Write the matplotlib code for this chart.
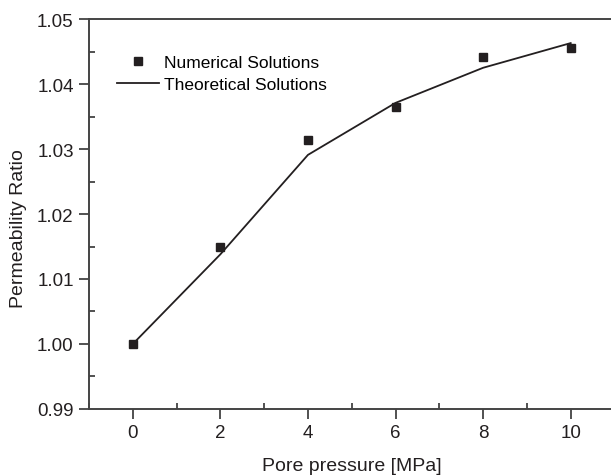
import numpy as np
import matplotlib.pyplot as plt
from matplotlib.ticker import MultipleLocator, FormatStrFormatter

plt.rcParams['font.family'] = ['Liberation Sans', 'DejaVu Sans']

# pressao de poros [MPa]
pressao = [0, 2, 4, 6, 8, 10]
numerica = [1.0000, 1.0149, 1.0314, 1.0364, 1.0442, 1.0455]
teorica = [1.0000, 1.0138, 1.0291, 1.0371, 1.0425, 1.0463]

cor = '#231f20'

fig = plt.figure(figsize=(6.11, 4.77), dpi=100)
ax = fig.add_axes([0.1457, 0.1405, 0.86, 0.8175])

ax.plot(pressao, numerica, 's', color=cor, ms=6, label='Numerical Solutions')
ax.plot(pressao, teorica, '-', color=cor, lw=1.3, label='Theoretical Solutions')

ax.set_xlim(-1, 11)
ax.set_ylim(0.99, 1.05)
ax.xaxis.set_major_locator(MultipleLocator(2))
ax.xaxis.set_minor_locator(MultipleLocator(1))
ax.yaxis.set_major_locator(MultipleLocator(0.01))
ax.yaxis.set_minor_locator(MultipleLocator(0.005))
ax.yaxis.set_major_formatter(FormatStrFormatter('%.2f'))

ax.tick_params(which='major', direction='out', length=7, width=1.2, pad=4,
               labelsize=13.5, colors='#333333')
ax.tick_params(which='minor', direction='in', length=4, width=1.2, colors='#333333')
ax.tick_params(labelcolor=cor, top=False, right=False)
for s in ax.spines.values():
    s.set_linewidth(1.4)
    s.set_color('#444444')

ax.set_xlabel('Pore pressure [MPa]', fontsize=14, color=cor, labelpad=11)
ax.set_ylabel('Permeability Ratio', fontsize=14, color=cor)
ax.yaxis.set_label_coords(-0.118, 0.465)

ax.legend(loc='upper left', bbox_to_anchor=(0.04, 0.925), frameon=False, fontsize=12.5,
          handlelength=2.4, handletextpad=0.3, labelspacing=0.35, borderaxespad=0)

fig.savefig('out.png', dpi=100)
